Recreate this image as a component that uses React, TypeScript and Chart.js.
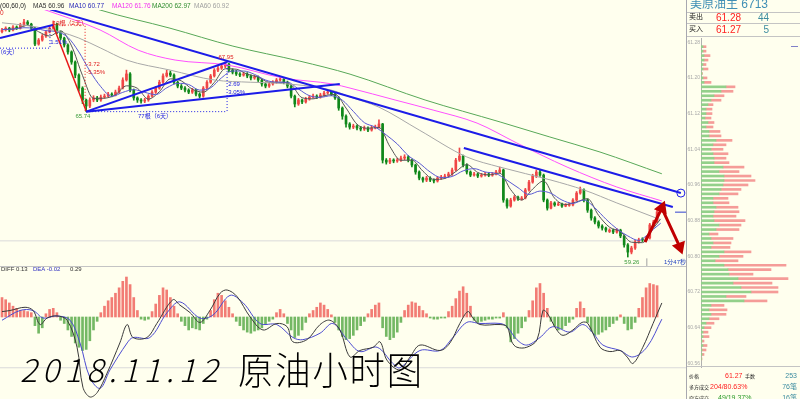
import React, { useEffect, useRef } from "react";
import { Chart, registerables } from "chart.js";
Chart.register(...registerables);

// ---------------- price candles (one entry per bar) ----------------
const opens = [
  69.30,69.38,69.46,69.38,69.51,69.46,69.60,69.73,69.64,69.46,
  68.75,68.93,69.11,69.29,69.46,69.64,69.29,69.02,68.71,68.40,
  67.95,67.37,66.79,66.26,65.99,66.26,66.35,66.26,66.39,66.43,
  66.52,66.48,66.61,66.79,67.15,67.42,66.70,66.35,66.26,66.21,
  66.26,66.43,66.61,66.79,67.05,67.33,67.46,67.37,67.05,66.88,
  66.79,66.70,66.61,66.70,66.52,66.43,66.79,67.05,67.33,67.59,
  67.68,67.77,67.86,67.59,67.50,67.42,67.37,67.42,67.33,67.24,
  67.28,67.15,66.97,66.88,66.97,67.05,67.15,67.19,67.05,66.88,
  66.43,66.08,66.26,66.17,66.30,66.39,66.43,66.39,66.48,66.57,
  66.61,66.52,66.35,65.90,65.54,65.19,65.05,65.10,65.01,64.96,
  65.01,64.92,65.01,65.05,65.19,63.58,63.49,63.58,63.54,63.58,
  63.67,63.72,63.58,63.36,63.05,62.78,62.69,62.78,62.69,62.65,
  62.78,62.82,62.87,62.96,63.14,63.58,63.76,63.36,63.05,62.91,
  62.96,62.87,62.91,62.96,62.91,62.96,63.05,63.14,61.80,61.53,
  61.80,61.93,61.84,61.89,62.25,62.60,62.87,63.05,62.91,61.80,
  61.44,61.67,61.58,61.62,61.53,61.56,61.58,61.80,62.11,62.25,
  61.80,61.35,61.00,60.82,60.64,60.55,60.40,60.46,60.37,60.46,
  60.20,59.80,59.48,59.66,59.93,60.06,60.02,60.11,60.69,60.82,
];
const highs = [
  69.45,69.52,69.50,69.58,69.56,69.68,69.85,69.80,69.68,69.50,
  69.00,69.18,69.35,69.55,69.78,69.68,69.33,69.06,68.76,68.45,
  68.00,67.42,66.85,66.30,66.35,66.45,66.42,66.48,66.52,66.60,
  66.58,66.70,66.88,67.25,67.59,67.48,66.75,66.40,66.32,66.34,
  66.50,66.68,66.86,67.14,67.42,67.58,67.55,67.42,67.10,66.95,
  66.86,66.76,66.78,66.75,66.58,66.86,67.12,67.40,67.66,67.78,
  67.86,67.95,67.90,67.65,67.58,67.48,67.50,67.48,67.38,67.36,
  67.33,67.20,67.02,67.05,67.12,67.22,67.28,67.24,67.10,66.92,
  66.48,66.33,66.30,66.38,66.46,66.52,66.49,66.56,66.64,66.72,
  66.66,66.57,66.40,65.95,65.60,65.25,65.18,65.15,65.08,65.10,
  65.06,65.09,65.14,65.37,65.22,63.65,63.66,63.64,63.67,63.76,
  63.82,63.78,63.62,63.40,63.10,62.82,62.86,62.84,62.74,62.85,
  62.90,62.95,63.04,63.22,63.66,64.12,63.80,63.42,63.10,63.04,
  63.00,62.98,63.04,63.00,63.02,63.12,63.27,63.18,61.86,61.88,
  62.00,61.98,61.96,62.32,62.68,62.95,63.14,63.14,62.96,61.85,
  61.74,61.72,61.70,61.66,61.64,61.66,61.86,62.18,62.38,62.30,
  61.85,61.40,61.06,60.88,60.70,60.60,60.52,60.50,60.53,60.50,
  60.25,59.86,59.74,60.00,60.10,60.12,60.18,60.76,60.90,61.34,
];
const lows = [
  69.25,69.33,69.30,69.34,69.40,69.42,69.55,69.58,69.40,68.68,
  68.70,68.88,69.05,69.25,69.42,69.22,68.95,68.62,68.30,67.85,
  67.25,66.65,66.10,65.74,65.92,66.18,66.18,66.20,66.33,66.38,
  66.40,66.44,66.55,66.75,67.10,66.62,66.25,66.15,66.12,66.14,
  66.20,66.38,66.55,66.74,67.00,67.28,67.30,66.98,66.80,66.72,
  66.62,66.54,66.55,66.44,66.35,66.38,66.74,67.00,67.28,67.52,
  67.62,67.70,67.52,67.42,67.35,67.30,67.32,67.25,67.15,67.18,
  67.08,66.88,66.80,66.82,66.92,67.00,67.10,66.98,66.80,66.35,
  65.95,66.02,66.10,66.12,66.25,66.34,66.32,66.34,66.42,66.52,
  66.45,66.28,65.80,65.40,65.05,64.96,64.98,64.93,64.88,64.90,
  64.85,64.87,64.97,65.00,63.45,63.40,63.42,63.46,63.48,63.52,
  63.60,63.50,63.28,62.95,62.70,62.60,62.62,62.62,62.56,62.60,
  62.72,62.77,62.82,62.90,63.10,63.52,63.28,62.96,62.84,62.86,
  62.80,62.82,62.86,62.84,62.86,62.92,63.00,61.70,61.44,61.48,
  61.75,61.78,61.80,61.85,62.20,62.55,62.80,62.85,61.72,61.35,
  61.40,61.52,61.55,61.47,61.50,61.52,61.54,61.76,62.06,61.72,
  61.25,60.90,60.74,60.55,60.46,60.38,60.35,60.30,60.32,60.12,
  59.70,59.26,59.40,59.60,59.88,59.95,59.96,60.06,60.62,60.78,
];
const closes = [
  69.38,69.46,69.38,69.51,69.46,69.60,69.73,69.64,69.46,68.75,
  68.93,69.11,69.29,69.46,69.64,69.29,69.02,68.71,68.40,67.95,
  67.37,66.79,66.26,65.99,66.26,66.35,66.26,66.39,66.43,66.52,
  66.48,66.61,66.79,67.15,67.42,66.70,66.35,66.26,66.21,66.26,
  66.43,66.61,66.79,67.05,67.33,67.46,67.37,67.05,66.88,66.79,
  66.70,66.61,66.70,66.52,66.43,66.79,67.05,67.33,67.59,67.68,
  67.77,67.86,67.59,67.50,67.42,67.37,67.42,67.33,67.24,67.28,
  67.15,66.97,66.88,66.97,67.05,67.15,67.19,67.05,66.88,66.43,
  66.08,66.26,66.17,66.30,66.39,66.43,66.39,66.48,66.57,66.61,
  66.52,66.35,65.90,65.54,65.19,65.05,65.10,65.01,64.96,65.01,
  64.92,65.01,65.05,65.19,63.58,63.49,63.58,63.54,63.58,63.67,
  63.72,63.58,63.36,63.05,62.78,62.69,62.78,62.69,62.65,62.78,
  62.82,62.87,62.96,63.14,63.58,63.76,63.36,63.05,62.91,62.96,
  62.87,62.91,62.96,62.91,62.96,63.05,63.14,61.80,61.53,61.80,
  61.93,61.84,61.89,62.25,62.60,62.87,63.05,62.91,61.80,61.44,
  61.67,61.58,61.62,61.53,61.58,61.58,61.80,62.11,62.25,61.80,
  61.35,61.00,60.82,60.64,60.55,60.46,60.46,60.37,60.46,60.20,
  59.80,59.48,59.66,59.93,60.02,60.02,60.11,60.69,60.82,61.27,
];

// ---------------- moving averages: [bar, price] ----------------
const ma5 = [
  [0,69.40],[4,69.44],[7,69.59],[10,69.30],[13,69.11],[16,69.34],[19,68.67],[22,67.35],[25,66.33],[28,66.34],
  [31,66.49],[34,66.89],[37,66.78],[40,66.30],[43,66.63],[46,67.20],[49,67.11],[52,66.74],[55,66.61],[58,67.04],
  [61,67.65],[64,67.63],[67,67.41],[70,67.28],[73,67.05],[76,67.05],[79,66.94],[82,66.36],[85,66.31],[88,66.45],
  [91,66.51],[94,65.90],[97,65.18],[100,65.00],[103,65.04],[106,64.18],[109,63.57],[112,63.58],[115,63.09],[118,62.72],
  [121,62.76],[124,63.07],[127,63.38],[130,63.03],[133,62.92],[136,63.00],[139,62.26],[142,61.80],[145,62.29],[148,62.65],
  [151,61.88],[154,61.60],[157,61.72],[160,61.86],[163,61.12],[166,60.59],[169,60.39],[172,59.92],[175,59.90],[178,60.55],[180,60.96],
];
const ma10 = [
  [0,69.40],[3,69.42],[6,69.48],[9,69.45],[12,69.35],[15,69.30],[18,69.05],[21,68.40],[24,67.55],[27,66.85],
  [30,66.42],[33,66.60],[36,66.72],[39,66.60],[42,66.50],[45,66.80],[48,67.00],[51,66.95],[54,66.70],[57,66.80],
  [60,67.25],[63,67.55],[66,67.55],[69,67.40],[72,67.15],[75,67.05],[78,67.05],[81,66.75],[84,66.45],[87,66.38],
  [90,66.45],[93,66.25],[96,65.75],[99,65.25],[102,65.05],[105,64.70],[108,64.30],[111,63.78],[114,63.45],[117,63.05],
  [120,62.80],[123,62.85],[126,63.10],[129,63.20],[132,63.05],[135,62.98],[138,62.68],[141,62.35],[144,62.05],[147,62.20],
  [150,62.10],[153,61.80],[156,61.65],[159,61.80],[162,61.45],[165,60.95],[168,60.52],[171,60.20],[174,60.00],[176,60.20],[178,60.50],[180,60.77],
];
const ma60 = [
  [0,69.70],[8,69.55],[16,69.29],[21,69.02],[27,68.57],[34,68.04],[46,67.59],[58,67.15],[68,67.05],[75,67.01],
  [90,66.70],[95,66.40],[103,65.94],[114,64.92],[127,63.72],[136,63.27],[150,62.69],[159,62.25],[168,61.67],[180,60.92],
];
const ma120 = [
  [8,70.50],[11.2,70.31],[26.8,69.38],[37.2,68.48],[47.3,68.04],[61.5,67.82],[76.8,67.24],[90.4,66.97],[95.1,66.79],
  [107.4,66.26],[117.8,65.81],[129.8,65.23],[140.7,64.34],[154.4,63.27],[168,62.38],[180.3,61.76],
];
const ma200 = [
  [16,70.90],[26.8,70.27],[45.9,69.46],[63.1,68.66],[81.4,67.99],[95.1,67.41],[115.6,66.26],[136.1,65.28],
  [149.7,64.61],[163.4,63.94],[180.3,62.97],
];

// ---------------- MACD ----------------
const macdHist = [
  0.18,0.16,0.13,0.10,0.08,0.06,0.06,0.05,0.04,
  -0.08,-0.15,-0.10,
  0.03,0.07,0.08,0.04,
  -0.03,-0.06,-0.12,-0.18,-0.24,-0.28,-0.31,-0.30,-0.22,-0.12,-0.04,
  0.04,0.10,0.15,0.18,0.22,0.27,0.33,0.37,0.30,0.18,0.06,
  -0.02,-0.03,-0.02,
  0.05,0.12,0.20,0.27,0.25,0.18,0.10,0.03,
  -0.04,-0.08,-0.12,-0.10,-0.11,-0.12,-0.06,-0.02,
  0.06,0.16,0.22,0.20,0.15,0.09,0.03,
  -0.04,-0.08,-0.12,-0.14,-0.15,-0.13,-0.12,-0.10,-0.07,-0.04,-0.02,
  0.04,0.07,0.03,
  -0.06,-0.12,-0.19,-0.17,-0.12,-0.05,
  0.03,0.06,0.09,0.13,0.11,0.07,0.02,
  -0.05,-0.12,-0.18,-0.21,-0.20,-0.17,-0.12,-0.08,-0.04,
  0.03,0.07,0.11,0.13,
  -0.10,-0.18,-0.21,-0.19,-0.14,-0.05,
  0.06,0.11,0.14,0.13,0.10,0.06,0.03,
  -0.01,-0.02,-0.02,-0.01,-0.01,
  0.05,0.10,0.17,0.24,0.28,0.22,0.10,
  -0.03,-0.05,-0.04,-0.03,-0.02,-0.02,-0.01,-0.01,
  0.04,
  -0.10,-0.23,-0.20,-0.15,-0.10,-0.04,
  0.06,0.15,0.27,0.31,0.22,0.08,
  -0.04,-0.08,-0.12,-0.11,-0.08,-0.05,-0.02,
  0.08,0.14,0.08,
  -0.05,-0.13,-0.17,-0.16,-0.14,-0.12,-0.09,-0.06,-0.03,
  0.02,
  -0.06,-0.12,-0.11,-0.05,
  0.08,0.18,0.27,0.31,0.30,0.29,
];
const diffLine = [
  [0,0.05],[2.2,0.06],[6.3,0.09],[8.5,0.06],[10.4,-0.07],[12.3,-0.01],[15,0.01],[17.8,-0.03],[20.5,-0.28],[22.1,-0.65],
  [24,-0.74],[26,-0.70],[28.7,-0.52],[32.2,-0.24],[34.2,-0.07],[35.8,-0.19],[39.6,-0.19],[42.3,-0.06],[46.7,0.16],[48.6,0.11],
  [51.4,0.04],[54.1,-0.05],[56.8,0.06],[59.6,0.22],[61.5,0.25],[64.2,0.19],[67.8,0.00],[71.3,-0.12],[75.1,-0.06],[77.9,-0.09],
  [79.5,-0.23],[83.3,-0.21],[86.9,-0.07],[89.6,-0.03],[92.3,-0.12],[95.1,-0.37],[97.8,-0.31],[101.4,-0.28],[103.3,-0.23],[105.2,-0.40],
  [108.7,-0.49],[111.5,-0.37],[114.2,-0.26],[119.7,-0.31],[122.4,-0.24],[125.1,-0.06],[127.3,0.05],[128.7,-0.01],[130.6,-0.07],[136.1,-0.07],
  [138,-0.09],[139.3,-0.23],[140.7,-0.28],[143.4,-0.28],[146.2,-0.21],[147.8,0.06],[148.9,0.04],[151.6,-0.12],[153.3,-0.17],[156,-0.12],
  [158.5,-0.05],[160.1,-0.06],[163.4,-0.28],[166.1,-0.32],[168.9,-0.31],[170.8,-0.37],[172.4,-0.43],[175.1,-0.28],[177.9,-0.06],[180.3,0.13],
];
const deaLine = [
  [0,-0.03],[4.9,0.06],[8.5,0.06],[11.2,-0.01],[15,0.01],[18.6,-0.03],[21.3,-0.24],[24,-0.56],[26.8,-0.66],[29.5,-0.49],
  [34.2,-0.24],[35.8,-0.19],[40.4,-0.19],[45.1,0.04],[48.6,0.14],[54.1,-0.01],[57.7,0.02],[62.3,0.20],[65.9,0.13],[70.5,-0.06],
  [75.1,-0.07],[79.5,-0.19],[82.2,-0.21],[86.9,-0.15],[90.4,-0.06],[94.3,-0.21],[97.8,-0.32],[102.5,-0.28],[106.8,-0.43],[108.7,-0.47],
  [114.2,-0.31],[119.7,-0.31],[123.2,-0.19],[127,-0.05],[130.6,-0.06],[136.1,-0.06],[138,-0.09],[140.7,-0.21],[143.4,-0.26],[147,-0.19],
  [150.5,-0.09],[155.2,-0.14],[158.7,-0.07],[161.5,-0.15],[164.2,-0.26],[168.9,-0.31],[172.4,-0.37],[176.2,-0.28],[180.3,-0.02],
];

// ---------------- order book profile ----------------
const profilePrices = [
  61.27,61.26,61.25,61.24,61.23,61.22,61.21,61.20,61.19,61.18,
  61.17,61.16,61.15,61.14,61.13,61.12,61.11,61.10,61.09,61.08,
  61.07,61.06,61.05,61.04,61.03,61.02,61.01,61.00,60.99,60.98,
  60.97,60.96,60.95,60.94,60.93,60.92,60.91,60.90,60.89,60.88,
  60.87,60.86,60.85,60.84,60.83,60.82,60.81,60.80,60.79,60.78,
  60.77,60.76,60.75,60.74,60.73,60.72,60.71,60.70,60.69,60.68,
  60.67,60.66,60.65,60.64,60.63,60.62,60.61,60.60,60.59,60.58,
  60.57,
];
const profileBuy = [
  2,2,3,3,2,2,1,2,3,25, 20,13,10,7,5,5,4,7,5,8,
  8,15,12,10,12,13,13,22,18,23, 23,22,20,18,12,12,15,13,12,13,
  18,15,8,10,12,10,23,18,14,23, 27,28,37,32,40,50,25,43,10,8,
  10,8,5,3,2,2,1,2,1,1, 0.5,
];
const profileSell = [
  3,3,6,4,3,5,0.5,4,7,9, 12,10,10,5,6,6,6,6,7,11,
  12,16,13,12,15,12,15,21,20,27, 31,25,20,19,15,16,22,25,23,31,
  22,23,9,22,18,19,27,24,23,62, 43,24,50,39,37,27,20,23,13,18,
  15,10,8,7,5,6,2,4,4,2, 0.5,
];
const profileTicks = [61.28,61.20,61.12,61.04,60.96,60.88,60.80,60.72,60.64,60.56];

// ---------------- annotations ----------------
const mainNotes = [
  { text: "19根（2天）", x: 13.9, y: 69.66, color: "#E02020", align: "left" },
  { text: "-3.72", x: 23.0, y: 67.86, color: "#E02020", align: "left" },
  { text: "-5.35%", x: 23.0, y: 67.50, color: "#E02020", align: "left" },
  { text: "1.51%", x: 13.2, y: 68.84, color: "#2020E0", align: "left" },
  { text: "（6天）", x: -1.4, y: 68.40, color: "#2020E0", align: "left" },
  { text: "67.95", x: 61.2, y: 68.17, color: "#E02020", align: "center" },
  { text: "2.69", x: 61.8, y: 66.97, color: "#2020E0", align: "left" },
  { text: "3.05%", x: 61.8, y: 66.61, color: "#2020E0", align: "left" },
  { text: "65.74", x: 22.1, y: 65.54, color: "#3A9A3A", align: "center" },
  { text: "77根（6天）", x: 41.8, y: 65.54, color: "#2020E0", align: "center" },
  { text: "59.26", x: 172.1, y: 59.04, color: "#3A9A3A", align: "center" },
  { text: "1分47秒", x: 186.9, y: 59.04, color: "#2040C0", align: "right" },
];

const X_MIN = -0.55;
const X_MAX = 186.9;

const notesPlugin = {
  id: "notes",
  afterDatasetsDraw(chart: any, _args: any, opts: any) {
    const items = (opts && opts.items) || [];
    const { ctx, scales } = chart;
    ctx.save();
    for (const n of items) {
      ctx.font = '6px "Liberation Sans","Noto Sans CJK SC",sans-serif';
      ctx.fillStyle = n.color;
      ctx.textAlign = n.align;
      ctx.textBaseline = "middle";
      ctx.fillText(n.text, scales.x.getPixelForValue(n.x), scales.y.getPixelForValue(n.y));
    }
    ctx.restore();
  },
};

const pts = (arr: number[][]) => arr.map(([x, y]) => ({ x, y }));
const line = (data: any[], color: string, width: number, extra: any = {}) => ({
  type: "line",
  data,
  borderColor: color,
  backgroundColor: color,
  borderWidth: width,
  pointRadius: 0,
  fill: false,
  tension: 0,
  order: 3,
  ...extra,
});

const baseOpts = {
  responsive: false,
  animation: false,
  devicePixelRatio: 1,
  events: [],
};

const T = ({ x, y, s, c, children, right }: any) => (
  <div
    style={{
      position: "absolute",
      left: right ? undefined : x,
      right: right ? 800 - x : undefined,
      top: y - s * 0.6,
      fontSize: s,
      lineHeight: `${s * 1.2}px`,
      color: c,
      whiteSpace: "nowrap",
    }}
  >
    {children}
  </div>
);

const HL = ({ x, y, w, c }: any) => (
  <div style={{ position: "absolute", left: x, top: y, width: w, height: 1, background: c }} />
);

export default function App() {
  const mainRef = useRef<HTMLCanvasElement>(null);
  const macdRef = useRef<HTMLCanvasElement>(null);
  const profRef = useRef<HTMLCanvasElement>(null);

  useEffect(() => {
    const up = "#F04646";
    const down = "#10881A";
    const cc = closes.map((c, i) => (c >= opens[i] ? up : down));
    const blue = "#1C1CE8";

    const main = new Chart(mainRef.current as HTMLCanvasElement, {
      type: "bar",
      data: {
        datasets: [
          line([{ x: X_MIN, y: 59.98 }, { x: X_MAX, y: 59.98 }], "#DADADA", 1, { order: 40 }),
          {
            type: "bar",
            data: closes.map((_c, i) => ({ x: i, y: [lows[i], highs[i]] })),
            backgroundColor: cc,
            barThickness: 1,
            grouped: false,
            order: 30,
          },
          {
            type: "bar",
            data: closes.map((c, i) => ({ x: i, y: [opens[i], c] })),
            backgroundColor: cc,
            barThickness: 2,
            minBarLength: 1,
            grouped: false,
            order: 29,
          },
          line(pts(ma200), "#58A858", 1, { tension: 0.4, cubicInterpolationMode: "monotone" }),
          line(pts(ma120), "#FF50FF", 1, { tension: 0.4, cubicInterpolationMode: "monotone" }),
          line(pts(ma60), "#A8A8A8", 1, { tension: 0.4, cubicInterpolationMode: "monotone" }),
          line(pts(ma10), "#5A5AD2", 1, { tension: 0.4, cubicInterpolationMode: "monotone" }),
          line(pts(ma5), "#555555", 1, { tension: 0.4, cubicInterpolationMode: "monotone" }),
          // trend lines
          line([{ x: 13.1, y: 70.3 }, { x: 185.5, y: 62.11 }], blue, 2, {
            order: 1,
            pointRadius: [0, 4],
            pointBackgroundColor: "rgba(0,0,0,0)",
            pointBorderColor: blue,
            pointBorderWidth: 1,
          }),
          line([{ x: 126.2, y: 64.12 }, { x: 183.3, y: 61.49 }], blue, 2, { order: 1 }),
          line([{ x: 23, y: 65.74 }, { x: 92.3, y: 66.97 }], blue, 2, { order: 1 }),
          line([{ x: 23, y: 65.74 }, { x: 61.5, y: 67.95 }], blue, 2, { order: 1 }),
          line([{ x: X_MIN, y: 69.02 }, { x: 13.9, y: 69.6 }], blue, 2, { order: 1 }),
          line([{ x: 23, y: 65.74 }, { x: 61.5, y: 65.74 }], blue, 1, { order: 1, borderDash: [1, 2] }),
          line([{ x: 61.5, y: 67.95 }, { x: 61.5, y: 65.74 }], blue, 1, { order: 1, borderDash: [1, 2] }),
          line([{ x: X_MIN, y: 68.57 }, { x: 13.1, y: 68.57 }, { x: 13.1, y: 69.51 }], blue, 1, { order: 1, borderDash: [1, 2] }),
          line([{ x: 13.9, y: 69.6 }, { x: 23, y: 65.77 }], "#E81818", 1.5, { order: 1 }),
          line([{ x: 13.9, y: 69.6 }, { x: 22.7, y: 69.6 }, { x: 22.7, y: 65.77 }], "#E81818", 1, { order: 1, borderDash: [1, 2] }),
          // forecast arrow
          line([{ x: 175.7, y: 59.93 }, { x: 180.3, y: 61.44 }, { x: 185.2, y: 59.71 }], "#C00000", 3, {
            order: 0,
            pointRadius: [0, 5, 5],
            pointStyle: "triangle",
            pointRotation: [0, 22, 160],
            pointBackgroundColor: "#C00000",
            pointBorderColor: "#C00000",
          }),
          line([{ x: 183.9, y: 61.26 }, { x: X_MAX, y: 61.26 }], "#3040D0", 1, { order: 1 }),
          line([{ x: 176.2, y: 58.86 }, { x: 176.2, y: 59.2 }], "#A0A0A0", 1, { order: 1 }),
        ] as any,
      },
      options: {
        ...baseOpts,
        layout: { autoPadding: false, padding: { top: 10, left: 0, right: 0, bottom: 0 } },
        plugins: { legend: { display: false }, tooltip: { enabled: false }, notes: { items: mainNotes } } as any,
        scales: {
          x: { type: "linear", min: X_MIN, max: X_MAX, display: false, offset: false },
          y: { type: "linear", min: 58.86, max: 70.27, display: false },
        },
      } as any,
      plugins: [notesPlugin as any],
    });

    const macd = new Chart(macdRef.current as HTMLCanvasElement, {
      type: "bar",
      data: {
        datasets: [
          line([{ x: X_MIN, y: -0.47 }, { x: X_MAX, y: -0.47 }], "#DADADA", 1, { order: 40 }),
          {
            type: "bar",
            data: macdHist.map((v, i) => ({ x: i, y: v })),
            backgroundColor: macdHist.map((v) => (v >= 0 ? "#F27C74" : "#74B864")),
            barThickness: 2,
            grouped: false,
            order: 20,
          },
          line(pts(deaLine), "#4B4BD0", 1, { tension: 0.35, order: 2 }),
          line(pts(diffLine), "#3A3A3A", 1, { tension: 0.35, order: 1 }),
        ] as any,
      },
      options: {
        ...baseOpts,
        layout: { autoPadding: false, padding: 0 },
        plugins: { legend: { display: false }, tooltip: { enabled: false } },
        scales: {
          x: { type: "linear", min: X_MIN, max: X_MAX, display: false, offset: false },
          y: { type: "linear", min: -0.759, max: 0.472, display: false },
        },
      } as any,
    });

    const prof = new Chart(profRef.current as HTMLCanvasElement, {
      type: "bar",
      data: {
        datasets: [
          {
            data: profilePrices.map((p, i) => ({ x: profileBuy[i], y: p })),
            backgroundColor: "#93D08A",
            barThickness: 2,
            stack: "v",
          },
          {
            data: profilePrices.map((p, i) => ({ x: profileSell[i], y: p })),
            backgroundColor: "#F59C98",
            barThickness: 2,
            stack: "v",
          },
        ] as any,
      },
      options: {
        ...baseOpts,
        indexAxis: "y",
        layout: { autoPadding: false, padding: 0 },
        plugins: { legend: { display: false }, tooltip: { enabled: false } },
        scales: {
          x: { type: "linear", min: 0, max: 99, stacked: true, display: false },
          y: {
            type: "linear",
            min: 60.5496,
            max: 61.2895,
            stacked: true,
            position: "left",
            offset: false,
            afterFit: (s: any) => {
              s.width = 14;
              s.paddingTop = 0;
              s.paddingBottom = 0;
            },
            afterBuildTicks: (s: any) => {
              s.ticks = profileTicks.map((v) => ({ value: v }));
            },
            ticks: {
              font: { size: 5, family: "Liberation Sans" },
              color: "#A8A8A8",
              padding: 1,
              autoSkip: false,
              callback: (v: any) => Number(v).toFixed(2),
            },
            grid: { display: false, drawTicks: false, tickLength: 0 },
            border: { display: true, color: "#B0B0B0" },
          },
        },
      } as any,
    });

    return () => {
      main.destroy();
      macd.destroy();
      prof.destroy();
    };
  }, []);

  return (
    <div
      style={{
        position: "absolute",
        left: 0,
        top: 0,
        width: 800,
        height: 399,
        overflow: "hidden",
        background: "#FFFFEE",
        fontFamily: '"Liberation Sans","Noto Sans CJK SC",sans-serif',
      }}
    >
      <canvas ref={mainRef} width={686} height={266} style={{ position: "absolute", left: 0, top: 0 }} />
      <canvas ref={macdRef} width={686} height={133} style={{ position: "absolute", left: 0, top: 266 }} />
      <canvas ref={profRef} width={113} height={330} style={{ position: "absolute", left: 687, top: 38 }} />

      {/* separators */}
      <HL x={0} y={266} w={686} c="#C4C4C4" />
      <div style={{ position: "absolute", left: 686, top: 0, width: 1, height: 399, background: "#A8A8B0" }} />
      <HL x={687} y={12} w={113} c="#C4C4C4" />
      <HL x={687} y={23} w={113} c="#C4C4C4" />
      <HL x={687} y={36} w={113} c="#C4C4C4" />
      <HL x={687} y={366} w={113} c="#C4C4C4" />
      <HL x={791} y={46} w={7} c="#8080C8" />

      {/* main legend */}
      <T x={0} y={6} s={6.5} c="#202020">(00,60,0)</T>
      <T x={0} y={13} s={6.5} c="#E02020">0</T>
      <T x={33} y={6} s={6.5} c="#303030">MA5 60.96</T>
      <T x={69} y={6} s={6.5} c="#2828B8">MA10 60.77</T>
      <T x={112} y={6} s={6.5} c="#F030F0">MA120 61.76</T>
      <T x={152} y={6} s={6.5} c="#2E8B2E">MA200 62.97</T>
      <T x={194} y={6} s={6.5} c="#A0A0A0">MA60 60.92</T>

      {/* MACD legend */}
      <T x={1} y={270} s={6} c="#303030">DIFF 0.13</T>
      <T x={33} y={270} s={6} c="#3030C0">DEA -0.02</T>
      <T x={70} y={270} s={6} c="#303030">0.29</T>

      {/* right panel header */}
      <T x={690} y={4} s={12} c="#3F8FB5">美原油主 6713</T>
      <T x={689} y={17.5} s={7} c="#202020">卖出</T>
      <T x={716} y={17.5} s={10} c="#FF2020">61.28</T>
      <T x={769} y={17.5} s={10} c="#3C8CA0" right>44</T>
      <T x={689} y={29.5} s={7} c="#202020">买入</T>
      <T x={716} y={29.5} s={10} c="#FF2020">61.27</T>
      <T x={769} y={29.5} s={10} c="#3C8CA0" right>5</T>

      {/* right panel footer */}
      <T x={689} y={376} s={5} c="#202020">价格</T>
      <T x={725} y={376} s={7} c="#FF2020">61.27</T>
      <T x={745} y={376} s={5} c="#202020">手数</T>
      <T x={797} y={376} s={7} c="#3C8CA0" right>253</T>
      <T x={689} y={387} s={5} c="#202020">多方成交</T>
      <T x={710} y={387} s={7} c="#FF2020">204/80.63%</T>
      <T x={797} y={387} s={7} c="#3C8CA0" right>76笔</T>
      <T x={689} y={398} s={5} c="#202020">空方成交</T>
      <T x={718} y={398} s={7} c="#2A9A2A">49/19.37%</T>
      <T x={797} y={398} s={7} c="#3C8CA0" right>16笔</T>

      {/* handwritten caption */}
      <div
        style={{
          position: "absolute",
          left: 20,
          top: 348,
          fontSize: 32,
          lineHeight: "40px",
          color: "#000",
          fontFamily: '"Noto Sans CJK SC",sans-serif',
          fontWeight: 300,
          fontStyle: "italic",
          letterSpacing: 5,
          whiteSpace: "nowrap",
        }}
      >
        2018.11.12
      </div>
      <div
        style={{
          position: "absolute",
          left: 238,
          top: 346,
          fontSize: 38,
          lineHeight: "44px",
          color: "#000",
          fontFamily: '"Noto Sans CJK SC",sans-serif',
          fontWeight: 300,
          letterSpacing: 2,
          whiteSpace: "nowrap",
          transform: "scaleX(0.93)",
          transformOrigin: "left center",
        }}
      >
        原油小时图
      </div>
    </div>
  );
}
